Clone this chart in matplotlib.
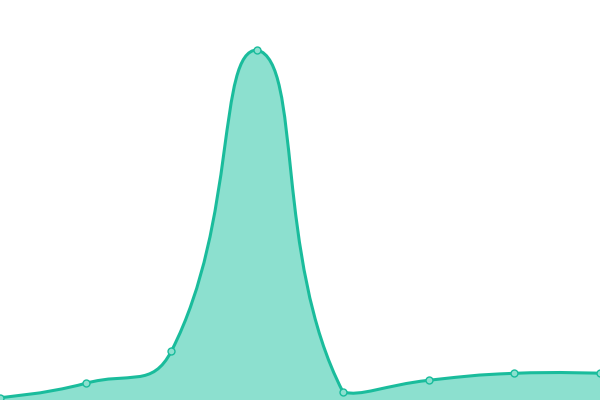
import numpy as np
import matplotlib
matplotlib.use("Agg")
import matplotlib.pyplot as plt
from matplotlib.path import Path
from matplotlib.patches import PathPatch

# data
x_vals = [0, 1, 2, 3, 4, 5, 6, 7]
y_vals = [2.5, 16.7, 49, 350, 8.3, 19.7, 26.7, 26.7]

line_color = "#1abc9c"
fill_color = "#8ce0cf"

W, H = 600, 400
Y_MAX = 400


def smooth_path(xs, ys, ax, smooth=0.5):
    """Bezier path like a smoothed line chart, control points computed in pixels
    and kept inside the bounding box of the points."""
    T = ax.transData
    pts = T.transform(np.column_stack([xs, ys]))
    lo, hi = pts.min(axis=0), pts.max(axis=0)
    n = len(pts)
    verts = [pts[0]]
    codes = [Path.MOVETO]
    cps = []
    for i in range(n):
        p = pts[i]
        if i == 0 or i == n - 1:
            cps.append((p, p))
            continue
        prev, nxt = pts[i - 1], pts[i + 1]
        v = nxt - prev
        d0 = np.hypot(*(p - prev))
        d1 = np.hypot(*(nxt - p))
        r = d1 / (d0 + d1)
        c0 = np.clip(p - v * smooth * (1 - r), lo, hi)
        c1 = np.clip(p + v * smooth * r, lo, hi)
        cps.append((c0, c1))
    for i in range(n - 1):
        verts += [cps[i][1], cps[i + 1][0], pts[i + 1]]
        codes += [Path.CURVE4] * 3
    inv = T.inverted()
    return inv.transform(np.array(verts)), codes


fig = plt.figure(figsize=(W / 100, H / 100), dpi=100)
ax = fig.add_axes([0, 0, 1, 1])
ax.set_xlim(0, 7)
ax.set_ylim(0, Y_MAX)
ax.axis("off")

verts, codes = smooth_path(x_vals, y_vals, ax)

# filled area
area_verts = np.vstack([verts, [[x_vals[-1], 0], [x_vals[0], 0], verts[0]]])
area_codes = codes + [Path.LINETO, Path.LINETO, Path.CLOSEPOLY]
ax.add_patch(PathPatch(Path(area_verts, area_codes), facecolor=fill_color,
                       edgecolor="none", zorder=1))

# line
ax.add_patch(PathPatch(Path(verts, codes), facecolor="none",
                       edgecolor=line_color, linewidth=2.2, zorder=2,
                       capstyle="round", joinstyle="round"))

# markers
ax.plot(x_vals, y_vals, linestyle="none", marker="o", markersize=5,
        markerfacecolor=fill_color, markeredgecolor=line_color,
        markeredgewidth=1.0, zorder=3)

fig.savefig("out.png", dpi=100)
